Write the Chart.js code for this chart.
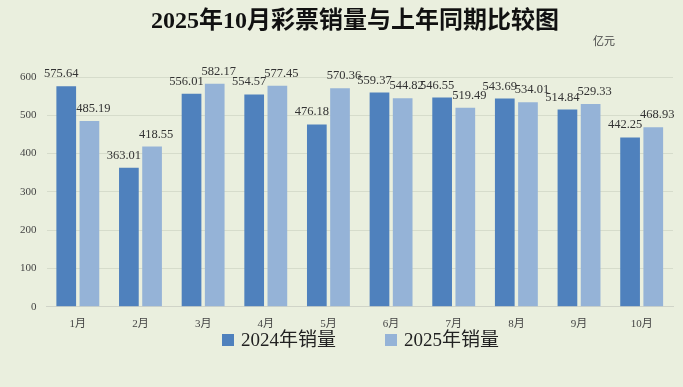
<!DOCTYPE html>
<html lang="zh">
<head>
    <meta charset="UTF-8">
    <title>2025年10月彩票销量与上年同期比较图</title>
    <script src="https://cdn.jsdelivr.net/npm/chart.js"></script>
    <style>
        body {
            margin: 0;
            background-color: #eaefde;
        }
        #wrap {
            width: 683px;
            height: 387px;
            position: relative;
        }
    </style>
</head>
<body>
    <div id="wrap"><canvas id="salesChart"></canvas></div>

    <script>
        // data (亿元)
        const months = ['1月', '2月', '3月', '4月', '5月', '6月', '7月', '8月', '9月', '10月'];
        const sales2024 = [575.64, 363.01, 556.01, 554.57, 476.18, 559.37, 546.55, 543.69, 514.84, 442.25];
        const sales2025 = [485.19, 418.55, 582.17, 577.45, 570.36, 544.82, 519.49, 534.01, 529.33, 468.93];
        const yTicks = [0, 100, 200, 300, 400, 500, 600];

        const serif = "'Liberation Serif', 'DejaVu Serif', 'Noto Sans CJK SC', serif";

        // title, unit text and the legend under the axis
        const headerPlugin = {
            id: 'header',
            afterDraw(chart) {
                const c = chart.ctx;
                c.save();
                c.fillStyle = '#111';
                c.textAlign = 'center';
                c.textBaseline = 'middle';
                c.font = "bold 24px 'Liberation Serif', 'Noto Sans CJK SC', serif";
                c.fillText('2025年10月彩票销量与上年同期比较图', 355, 22);
                c.font = "11px " + serif;
                c.fillStyle = '#444';
                c.fillText('亿元', 604, 42);

                // legend
                const starts = [222, 385];
                c.font = "19px " + serif;
                c.textAlign = 'left';
                chart.data.datasets.forEach((ds, i) => {
                    c.fillStyle = ds.backgroundColor;
                    c.fillRect(starts[i], 334, 12, 12);
                    c.fillStyle = '#222';
                    c.fillText(ds.label, starts[i] + 19, 341);
                });
                c.restore();
            }
        };

        // value labels above every bar, nudged apart a little so pairs don't collide
        const valueLabels = {
            id: 'valueLabels',
            afterDatasetsDraw(chart) {
                const c = chart.ctx;
                const nudge = [-5, 4];
                c.save();
                c.font = "12.5px " + serif;
                c.fillStyle = '#333';
                c.textAlign = 'center';
                c.textBaseline = 'bottom';
                chart.data.datasets.forEach((ds, i) => {
                    chart.getDatasetMeta(i).data.forEach((bar, j) => {
                        c.fillText(ds.data[j].toFixed(2), bar.x + nudge[i], bar.y - 6);
                    });
                });
                c.restore();
            }
        };

        new Chart(document.getElementById('salesChart'), {
            type: 'bar',
            data: {
                labels: months,
                datasets: [{
                    label: '2024年销量',
                    data: sales2024,
                    backgroundColor: '#4f81bd',
                    categoryPercentage: 0.74,
                    barPercentage: 0.85
                }, {
                    label: '2025年销量',
                    data: sales2025,
                    backgroundColor: '#95b3d7',
                    categoryPercentage: 0.74,
                    barPercentage: 0.85
                }]
            },
            options: {
                responsive: true,
                maintainAspectRatio: false,
                animation: false,
                layout: {
                    padding: { top: 77, left: 10, right: 10, bottom: 53 }
                },
                scales: {
                    x: {
                        grid: { display: false },
                        border: { color: '#d0d4c8' },
                        ticks: { color: '#444', font: { family: serif, size: 11 } }
                    },
                    y: {
                        min: 0,
                        max: 600,
                        afterBuildTicks(axis) {
                            axis.ticks = yTicks.map(v => ({ value: v }));
                        },
                        grid: { color: '#d6dccb', drawTicks: false },
                        border: { display: false },
                        ticks: { color: '#444', padding: 10, font: { family: serif, size: 11 } }
                    }
                },
                plugins: {
                    legend: { display: false },
                    tooltip: { enabled: false }
                }
            },
            plugins: [headerPlugin, valueLabels]
        });
    </script>
</body>
</html>
